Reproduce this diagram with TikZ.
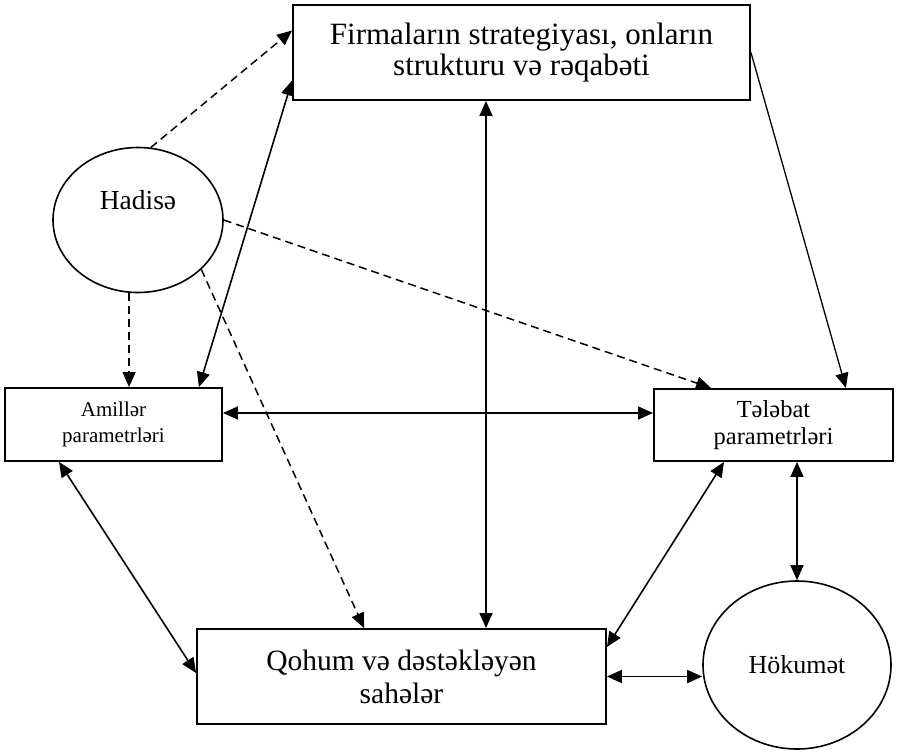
\documentclass[tikz,border=0pt]{standalone}
\usepackage{fontspec}
\setmainfont{Liberation Serif}
\usetikzlibrary{arrows.meta,shapes.geometric}

\begin{document}
\begin{tikzpicture}[x=1pt,y=-1pt,
  box/.style={draw,line width=1.9pt,rectangle,inner sep=0pt,align=center},
  oval/.style={draw,line width=1.6pt,ellipse,inner sep=0pt,align=center},
  tip/.style={-{Triangle[length=15pt,width=13pt]}},
  dar/.style={{Triangle[length=15pt,width=13pt]}-{Triangle[length=15pt,width=13pt]},line width=1.6pt},
  dsh/.style={tip,line width=1.5pt,dash pattern=on 8pt off 5pt}]

\useasboundingbox (0,0) rectangle (898,753);

\node[box,minimum width=457pt,minimum height=95pt,font=\fontsize{31}{31}\selectfont]
  (top) at (521.5,52.5) {Firmaların strategiyası, onların\\strukturu və rəqabəti};
\node[oval,minimum width=170pt,minimum height=145pt,text depth=40pt,font=\fontsize{27.5}{30}\selectfont]
  (had) at (138,220) {Hadisə};
\node[box,minimum width=217pt,minimum height=73pt,font=\fontsize{21}{26}\selectfont]
  (ami) at (113.5,424.5) {Amillər\\parametrləri};
\node[box,minimum width=239pt,minimum height=72pt,font=\fontsize{24.5}{27}\selectfont]
  (tel) at (773.5,425) {Tələbat\\parametrləri};
\node[box,minimum width=409pt,minimum height=95pt,font=\fontsize{29.5}{33}\selectfont]
  (qoh) at (401.5,676.5) {Qohum və dəstəkləyən\\sahələr};
\node[oval,minimum width=188pt,minimum height=168pt,font=\fontsize{26}{27}\selectfont]
  (hok) at (797,665) {Hökumət};

% hadise
\draw[dsh] (had.80) -- ([yshift=22pt]top.west);
\draw[dsh] (had.263) -- (had.263 |- ami.north);
\draw[dsh] (had.east) -- ([xshift=58pt]tel.north west);
\draw[dsh] (had.322) -- ([xshift=168pt]qoh.north west);

% solid links
\draw[dar] ([xshift=-24pt]ami.north east) -- ([yshift=-28pt]top.west);
\draw[tip,line width=1.3pt] (top.east) -- ([xshift=-48pt]tel.north east);
\draw[dar] ([yshift=11.5pt]ami.east) -- ([yshift=11.5pt]ami.east -| tel.west);
\coordinate (v) at ([xshift=-35.5pt]top.south);
\draw[dar] (v) -- (v |- qoh.north);
\draw[dar] ([xshift=55pt]ami.south west) -- ([yshift=3.5pt]qoh.west);
\draw[dar] ([xshift=71pt]tel.south west) -- ([yshift=29.5pt]qoh.east);
\draw[dar] (tel.south -| hok.north) -- (hok.north);
\draw[dar] (qoh.east) -- (hok.west |- qoh.east);
\end{tikzpicture}
\end{document}
